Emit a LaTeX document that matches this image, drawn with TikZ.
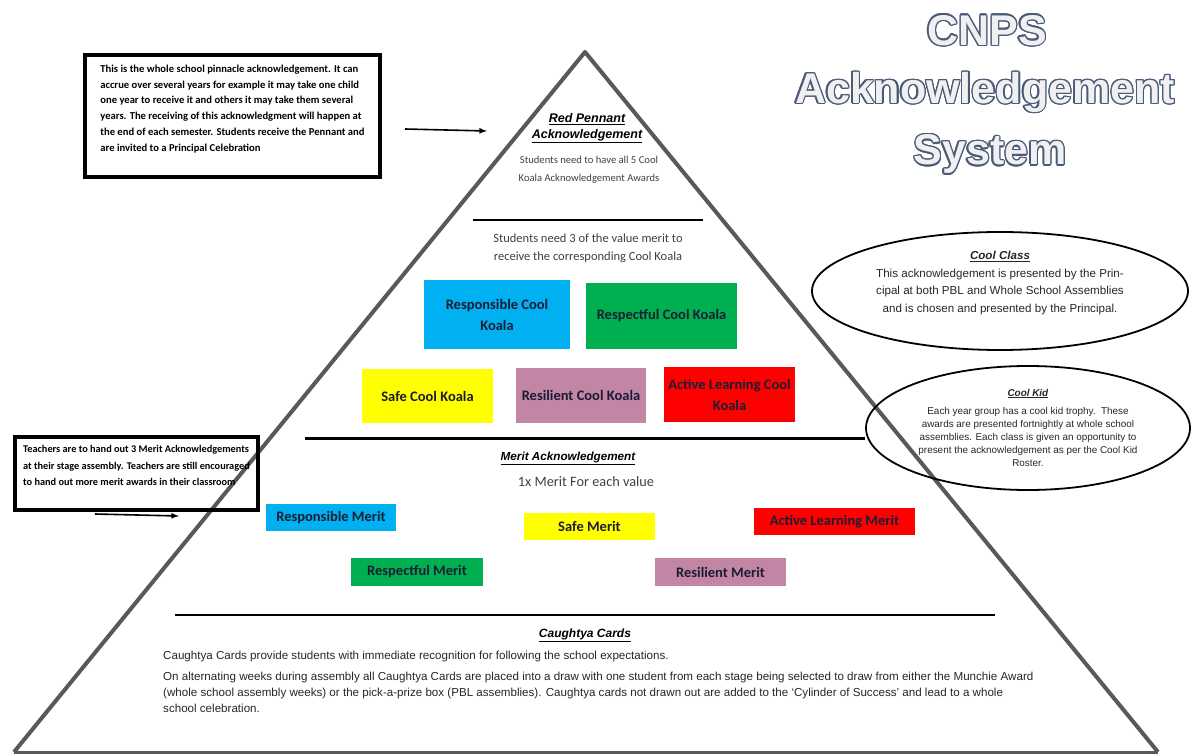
\documentclass[tikz,border=0pt]{standalone}
\usepackage{fontspec}
\setmainfont{Carlito}
\newfontfamily\arialfont{Liberation Sans}
\usepackage{contour}
\contourlength{1.3pt}
\usetikzlibrary{shapes}
\definecolor{pyrgray}{HTML}{595959}
\definecolor{koalablue}{HTML}{00B0F0}
\definecolor{koalagreen}{HTML}{00B050}
\definecolor{koalayellow}{HTML}{FFFF00}
\definecolor{koalapink}{HTML}{C285A6}
\definecolor{koalared}{HTML}{FF0000}
\definecolor{boxtext}{HTML}{1C1C34}
\definecolor{softtext}{HTML}{404040}
\definecolor{titleline}{HTML}{4A5A78}
\definecolor{titlefill}{HTML}{F0F0F0}

\begin{document}
\begin{tikzpicture}[x=1pt, y=-1pt,
    koala/.style={inner sep=0pt, align=center, text=boxtext,
      font=\bfseries\fontsize{14.5}{21}\selectfont},
    merit/.style={koala, font=\bfseries\fontsize{14.5}{18}\selectfont},
    notebox/.style={draw=black, line width=3.5pt, inner sep=0pt, align=left,
      font=\bfseries\fontsize{10.6}{15.8}\selectfont},
    heading/.style={align=center, inner sep=0pt,
      font=\arialfont\bfseries\itshape\fontsize{12.5}{16}\selectfont},
    plain/.style={align=center, inner sep=0pt, text=softtext},
    bigtitle/.style={inner sep=0pt, text=titlefill,
      font=\arialfont\bfseries\fontsize{43}{50}\selectfont}]
  \useasboundingbox (0,0) rectangle (1192,754);

  % title
  \node[bigtitle] (tcnps) at (987,31) {\contour{titleline}{CNPS}};
  \node[bigtitle] (tack) at (985,93) {\contour{titleline}{Acknowledgement}};
  \node[bigtitle] (tsys) at (990,155) {\contour{titleline}{System}};

  % pyramid
  \draw[pyrgray, line width=4pt, line join=round] (14,752) -- (585,52) -- (1158,752);
  \draw[pyrgray, line width=2.5pt] (14,752.5) -- (1158,752.5);
  \draw[black, line width=1.8pt] (473,220) -- (703,220);
  \draw[black, line width=2.5pt] (305,438.5) -- (865,438.5);
  \draw[black, line width=2pt] (175,615) -- (995,615);

  % red pennant level
  \node[heading] (pentitle) at (587,128) {\underline{Red Pennant}\\\underline{Acknowledgement}};
  \node[plain, font=\fontsize{10.6}{18}\selectfont] (pentext) at (589,170)
    {Students need to have all 5 Cool\\Koala Acknowledgement Awards};

  % cool koala level
  \node[plain, font=\fontsize{12.5}{18}\selectfont] (koalatext) at (588,248)
    {Students need 3 of the value merit to\\receive the corresponding Cool Koala};
  \node[koala, fill=koalablue, minimum width=146, minimum height=69] (respkoala) at (497,314.5) {Responsible Cool\\Koala};
  \node[koala, fill=koalagreen, minimum width=151, minimum height=66] (rspfkoala) at (661.5,316) {Respectful Cool Koala};
  \node[koala, fill=koalayellow, minimum width=131, minimum height=54] (safekoala) at (427.5,396) {Safe Cool Koala};
  \node[koala, fill=koalapink, minimum width=130, minimum height=55] (reslkoala) at (581,395.5) {Resilient Cool Koala};
  \node[koala, fill=koalared, minimum width=131, minimum height=55] (actvkoala) at (729.5,394.5) {Active Learning Cool\\Koala};

  % merit level
  \node[heading, font=\arialfont\bfseries\itshape\fontsize{11.7}{14}\selectfont] (merittitle) at (568,458) {\underline{Merit Acknowledgement}};
  \node[plain, font=\fontsize{14.3}{16}\selectfont] (merittext) at (586,482) {1x Merit For each value};
  \node[merit, fill=koalablue, minimum width=130, minimum height=27] (respmerit) at (331,517.5) {Responsible Merit};
  \node[merit, fill=koalayellow, minimum width=131, minimum height=27] (safemerit) at (589.5,526.5) {Safe Merit};
  \node[merit, fill=koalared, minimum width=161, minimum height=27] (actvmerit) at (834.5,521.5) {Active Learning Merit};
  \node[merit, fill=koalagreen, minimum width=132, minimum height=28] (rspfmerit) at (417,572) {Respectful Merit};
  \node[merit, fill=koalapink, minimum width=131, minimum height=28] (reslmerit) at (720.5,572) {Resilient Merit};

  % caughtya level
  \node[heading, font=\arialfont\bfseries\itshape\fontsize{12}{14}\selectfont] (cardtitle) at (585,635) {\underline{Caughtya Cards}};
  \node[anchor=north west, align=left, inner sep=0pt, text=black!85,
    font=\arialfont\fontsize{11.6}{16}\selectfont] (cardtext) at (163,650.5)
    {Caughtya Cards provide students with immediate recognition for following the school expectations.\\[5pt]
     On alternating weeks during assembly all Caughtya Cards are placed into a draw with one student from each stage being selected to draw from either the Munchie Award\\
     (whole school assembly weeks) or the pick-a-prize box (PBL assemblies). Caughtya cards not drawn out are added to the ‘Cylinder of Success’ and lead to a whole\\
     school celebration.};

  % notes on the left
  \node[notebox, minimum width=295, minimum height=122] (pinnote) at (232.5,116)
    {This is the whole school pinnacle acknowledgement. It can\\
     accrue over several years for example it may take one child\\
     one year to receive it and others it may take them several\\
     years. The receiving of this acknowledgment will happen at\\
     the end of each semester. Students receive the Pennant and\\
     are invited to a Principal Celebration\\ ~};
  \node[notebox, font=\bfseries\fontsize{10.3}{16.2}\selectfont,
    minimum width=243, minimum height=73] (teachnote) at (136.5,473.5)
    {Teachers are to hand out 3 Merit Acknowledgements\\
     at their stage assembly. Teachers are still encouraged\\
     to hand out more merit awards in their classroom\\ ~};
  \coordinate (pinfrom) at (405,129);
  \coordinate (pinto) at (487,131);
  \coordinate (teachfrom) at (95,514);
  \coordinate (teachto) at (179,516);
  \draw[-latex, line width=1.6pt] (pinfrom) -- (pinto);
  \draw[-latex, line width=1.6pt] (teachfrom) -- (teachto);

  % ellipses on the right
  \draw[line width=1.8pt] (1000,291) ellipse (188pt and 59pt);
  \draw[line width=1.8pt] (1028,428) ellipse (162pt and 62pt);
  \node[align=center, inner sep=0pt, text=black!85,
    font=\arialfont\fontsize{11.6}{17.5}\selectfont] (coolclass) at (1000,283)
    {\underline{\textbf{\textit{Cool Class}}}\\
     This acknowledgement is presented by the Prin-\\
     cipal at both PBL and Whole School Assemblies\\
     and is chosen and presented by the Principal.};
  \node[align=center, inner sep=0pt, text=black!85,
    font=\arialfont\fontsize{9.9}{13}\selectfont] (coolkid) at (1028,427.5)
    {\underline{\textbf{\textit{Cool Kid}}}\\[5pt]
     Each year group has a cool kid trophy.\ \ These\\
     awards are presented fortnightly at whole school\\
     assemblies. Each class is given an opportunity to\\
     present the acknowledgement as per the Cool Kid\\
     Roster.};
\end{tikzpicture}
\end{document}
